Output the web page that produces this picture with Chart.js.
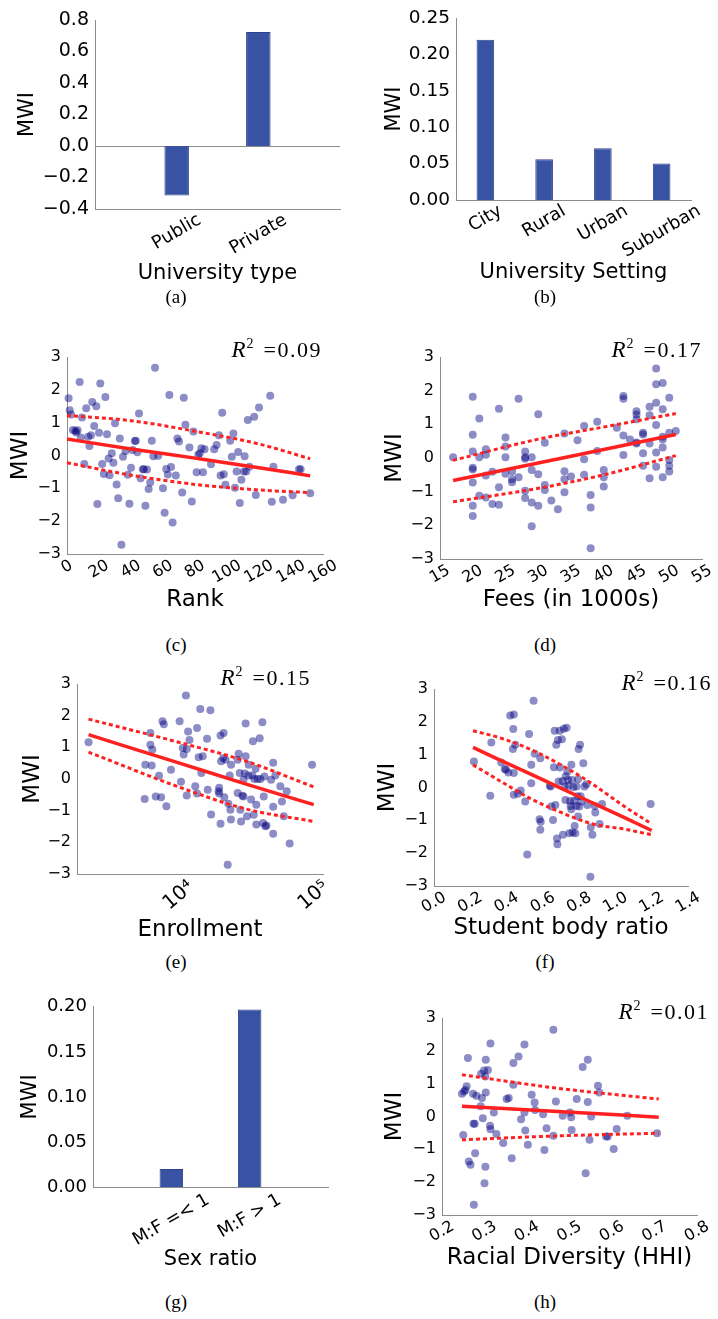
<!DOCTYPE html>
<html lang="en">
<head>
<meta charset="UTF-8">
<title>MWI by university attributes</title>
<style>
  body { margin: 0; background: #fff; }
  #page { position: relative; width: 718px; height: 1319px; overflow: hidden; }
  canvas { position: absolute; }
  .cap { position: absolute; width: 60px; text-align: center; font-family: "Liberation Serif", serif; font-size: 19px; line-height: 22px; }
  .r2 { position: absolute; font-family: "Liberation Serif", serif; font-size: 22px; line-height: 26px; white-space: nowrap; }
  .r2 i { font-size: 23px; }
  .r2 sup { font-size: 14px; vertical-align: 9px; line-height: 0; margin-left: 1px; margin-right: 10px; }
  .r2 span { letter-spacing: 1.5px; }
</style>
<script src="https://cdn.jsdelivr.net/npm/chart.js"></script>
</head>
<body>
<div id="page">
  <canvas id="ca" width="359" height="290" style="left:0;top:0"></canvas>
  <canvas id="cb" width="359" height="290" style="left:359px;top:0"></canvas>
  <canvas id="cc" width="359" height="290" style="left:0;top:330px"></canvas>
  <canvas id="cd" width="359" height="290" style="left:359px;top:330px"></canvas>
  <canvas id="ce" width="359" height="290" style="left:0;top:660px"></canvas>
  <canvas id="cf" width="359" height="290" style="left:359px;top:660px"></canvas>
  <canvas id="cg" width="359" height="290" style="left:0;top:990px"></canvas>
  <canvas id="ch" width="359" height="290" style="left:359px;top:990px"></canvas>

  <div class="cap" style="left:146px;top:286px">(a)</div>
  <div class="cap" style="left:515px;top:286px">(b)</div>
  <div class="cap" style="left:146px;top:634px">(c)</div>
  <div class="cap" style="left:515px;top:634px">(d)</div>
  <div class="cap" style="left:146px;top:951px">(e)</div>
  <div class="cap" style="left:515px;top:951px">(f)</div>
  <div class="cap" style="left:146px;top:1291px">(g)</div>
  <div class="cap" style="left:515px;top:1291px">(h)</div>

  <div class="r2" style="right:396px;top:337px"><i>R</i><sup>2</sup><span>=0.09</span></div>
  <div class="r2" style="right:16px;top:337px"><i>R</i><sup>2</sup><span>=0.17</span></div>
  <div class="r2" style="right:407px;top:665px"><i>R</i><sup>2</sup><span>=0.15</span></div>
  <div class="r2" style="right:6px;top:670px"><i>R</i><sup>2</sup><span>=0.16</span></div>
  <div class="r2" style="right:9px;top:999px"><i>R</i><sup>2</sup><span>=0.01</span></div>
</div>

<script>
// (a) university type
const typeLabels = ['', 'Public', 'Private', ''];
const typeValues = [null, -0.314, 0.724, null];

// (b) university setting
const settingLabels = ['City', 'Rural', 'Urban', 'Suburban'];
const settingValues = [0.220, 0.056, 0.071, 0.050];

// (g) sex ratio
const sexLabels = ['', 'M:F =< 1', 'M:F > 1', ''];
const sexValues = [null, 0.020, 0.197, null];

// (c) rank
const rankX = [1, 1.7, 2.5, 7.9, 20.8, 3.7, 5.2, 6.6, 5.8, 9.4,
  8.7, 12, 13.3, 14, 15, 15.8, 17, 18.3, 20, 24,
  25, 10.8, 19, 22, 23, 26.6, 26, 28, 29, 30,
  31, 32, 33, 34, 35, 36.6, 38, 39, 40, 41,
  42.4, 43, 44, 45, 46, 47.4, 48, 49, 50, 51,
  52, 53, 54, 55, 57, 60, 61, 62, 63, 64,
  65, 66, 68, 69, 70, 72, 73, 74, 76.5, 78,
  79, 81, 82, 83, 84, 85, 86, 90, 92, 93.5,
  95, 96, 97, 98, 99, 102, 103, 104, 105, 106,
  107, 108, 109, 110.5, 111, 112, 113, 114, 117, 118,
  120, 127, 128, 129, 135, 141, 145, 146, 152];
const rankY = [1.74, 1.38, 1.25, 2.24, 2.19, 0.78, 0.75, 0.77, 0.7, 1.16,
  0.55, 1.44, 0.57, 0.29, 0.62, 1.63, 0.9, 1.5, 0.69, 1.78,
  0.65, -0.26, -1.48, -0.26, -0.56, -0.6, -0.09, 0.07, -0.22, 0.98,
  -0.88, -1.3, 0.52, -2.72, -0.04, 0.14, -0.59, -1.47, -0.37, 0.17,
  0.44, 0.45, 0.1, 1.28, -0.69, -0.42, -0.42, -1.53, -0.43, -1.02,
  -0.82, 0.45, -0.02, 2.67, -0.01, -1.0, -1.74, -0.41, -0.58, 1.84,
  -0.35, -2.04, -0.61, 0.52, 0.43, -1.13, 1.76, 0.94, 0.24, -1.4,
  0.73, -0.51, 0.02, 0.07, 0.22, -0.51, 0.19, -0.27, 0.19, 0.32,
  0.62, -0.61, 1.3, -0.57, -0.89, 0.45, -0.04, 0.67, -0.98, -0.49,
  0.11, -1.45, -0.74, -0.49, -0.02, -0.49, 1.08, -0.34, 1.18, -1.2,
  1.46, 1.82, -1.41, -0.34, -1.35, -1.21, -0.42, -0.42, -1.15];
const rankFitX = [0, 40, 80, 120, 152];
const rankFit = [0.5, 0.2, -0.08, -0.37, -0.62];
const rankUpper = [1.22, 1.06, 0.74, 0.35, -0.1];
const rankLower = [-0.22, -0.6, -0.88, -1.05, -1.13];

// (d) fees
const feesX = [17, 20, 20, 20, 20, 20, 20, 20, 20, 21,
  21, 21, 22, 22, 22, 22, 23, 23, 24, 24,
  24, 25, 25, 25, 25, 26, 26, 26, 27, 27,
  28, 28, 28, 28, 28, 29, 29, 29, 29, 30,
  30, 30, 31, 31, 31, 32, 33, 34, 34, 34,
  34, 35, 36, 37, 37, 37, 38, 38, 38, 39,
  39, 40, 40, 40, 42, 43, 43, 43, 43, 44,
  45, 45, 45, 45, 45, 46, 46, 46, 46, 47,
  47, 47, 47, 48, 48, 48, 48, 48, 48, 49,
  49, 49, 49, 49, 49, 50, 50, 50, 50, 50,
  51];
const feesY = [0.02, 1.82, 0.69, 0.19, -0.29, -0.34, -0.73, -1.42, -1.72, 1.17,
  0.02, -1.12, 0.26, 0.1, -0.52, -1.17, -0.41, -1.37, 1.46, -0.87,
  -1.39, 0.61, 0.34, 0.02, -0.47, -0.4, -0.63, -0.72, 1.76, -0.57,
  0.19, 0.02, -0.02, -0.97, -1.19, 0.02, -0.36, -1.32, -2.03, 1.3,
  -0.48, -1.42, 0.45, -0.8, -0.95, -1.26, -1.52, 0.73, -0.39, -0.63,
  -1.02, -0.55, 0.53, 0.95, -0.04, -0.5, -1.1, -1.47, -2.68, 1.08,
  0.21, -0.36, -0.57, -0.85, 0.9, 1.84, 1.76, 0.67, 0.09, 0.55,
  1.39, 1.29, 1.15, 0.46, 0.43, 0.75, 0.7, 0.14, -0.23, 1.52,
  1.27, 0.43, -0.6, 2.66, 2.19, 1.64, 0.98, 0.16, -0.26, 2.23,
  1.45, 0.63, 0.55, 0.31, -0.57, 1.79, 0.75, -0.06, -0.23, -0.4,
  0.8];
const feesFitX = [17, 30, 40, 51];
const feesFit = [-0.67, -0.15, 0.25, 0.7];
const feesUpper = [-0.07, 0.56, 0.92, 1.32];
const feesLower = [-1.3, -0.9, -0.5, 0.07];

// (e) enrollment
const enrollX = [2150, 5600, 5660, 6170, 6170, 6380, 6310, 6760, 7150, 7410,
  7590, 7760, 8110, 8770, 10160, 10400, 10720, 10890, 11320, 11480,
  11750, 11480, 12020, 13270, 13680, 13680, 14060, 14450, 14720, 15070,
  16220, 16410, 17180, 17380, 19770, 19950, 19950, 20420, 20420, 20610,
  21380, 21530, 21780, 22280, 23070, 23330, 23880, 24150, 24380, 24440,
  27350, 27350, 27800, 28310, 28640, 28970, 29650, 30200, 30200, 30900,
  31330, 31330, 32060, 32810, 32960, 34360, 35160, 35480, 35970, 36310,
  37150, 37580, 37580, 38460, 39810, 40270, 41690, 42170, 42660, 43150,
  43850, 44670, 48310, 50120, 50120, 50120, 52000, 56620, 58210, 59980,
  63100, 66370, 97270];
const enrollY = [1.16, -0.63, 0.45, 1.45, 1.08, 0.93, 0.43, -0.55, 0.1, -0.58,
  1.82, 1.73, -0.86, 0.29, 1.82, -0.09, 0.98, 0.77, 2.64, 0.95,
  1.5, -0.52, 1.23, -0.23, 1.61, -0.46, 0.69, 2.21, 0.19, 0.72,
  1.27, -0.34, 2.17, -1.12, -0.39, -0.28, -0.46, 1.37, -1.41, 0.56,
  0.66, 1.45, -0.58, 0.61, -2.71, -0.78, 0.11, -0.97, -1.28, 0.45,
  0.61, -0.44, 0.8, 0.19, -0.97, -1.34, -0.53, -0.55, -0.02, 0.17,
  1.75, 0.72, -1.18, 0.11, 0.45, -0.65, 0.11, 1.19, -1.13, 0.0,
  0.32, -0.81, -1.44, 0.0, 1.29, 0.0, 1.79, -1.39, -0.55, 0.08,
  -1.49, -1.47, -0.02, 0.51, -1.73, -0.88, 0.11, -0.23, -0.71, -1.18,
  -0.39, -2.04, 0.45];
const enrollFitX = [2150, 10000, 31620, 100000];
const enrollFit = [1.4, 0.51, -0.16, -0.81];
const enrollUpper = [1.89, 1.16, 0.56, -0.25];
const enrollLower = [0.85, -0.25, -0.95, -1.34];

// (f) student body ratio
const ratioX = [0.22, 0.31, 0.316, 0.371, 0.39, 0.397, 0.41, 0.42, 0.44, 0.437,
  0.435, 0.44, 0.44, 0.448, 0.463, 0.478, 0.503, 0.524, 0.536, 0.536,
  0.549, 0.555, 0.582, 0.586, 0.588, 0.586, 0.514, 0.643, 0.647, 0.656,
  0.661, 0.665, 0.669, 0.674, 0.678, 0.68, 0.683, 0.687, 0.693, 0.694,
  0.705, 0.709, 0.711, 0.716, 0.72, 0.724, 0.726, 0.731, 0.735, 0.739,
  0.742, 0.746, 0.75, 0.753, 0.757, 0.757, 0.761, 0.764, 0.768, 0.772,
  0.775, 0.779, 0.785, 0.786, 0.79, 0.794, 0.794, 0.797, 0.801, 0.805,
  0.808, 0.812, 0.823, 0.83, 0.84, 0.845, 0.862, 0.864, 0.873, 0.886,
  0.889, 0.913, 0.926, 1.194, 0.638];
const ratioY = [0.79, -0.25, 1.37, 0.76, 0.56, 0.54, 0.46, 2.19, 2.22, 1.78,
  1.17, -0.22, 0.44, 1.3, -0.19, -0.09, -0.43, 1.63, 0.69, 0.13,
  2.64, 1.03, -0.97, 0.89, -1.04, -1.29, -2.04, 0.03, -0.58, -0.99,
  0.62, 1.73, -0.53, 1.3, -1.55, -1.73, 1.45, 0.18, 1.73, 0.61,
  1.47, 0.2, -1.44, 1.79, 0.03, -0.38, 0.34, 1.82, 0.49, 0.23,
  0.05, -1.39, -0.41, -0.56, 0.69, -0.66, 0.23, -1.37, 0.01, -0.41,
  -1.17, -1.39, -0.56, 0.03, -0.27, 0.25, -0.88, 1.17, -0.58, 1.3,
  -0.27, -0.43, 0.74, 0.03, 0.1, -0.53, -2.72, -1.21, -1.44, -0.56,
  -0.76, -1.11, -0.5, -0.5, 0.05];
const ratioFitX = [0.215, 0.37, 0.536, 0.683, 0.867, 1.05, 1.2];
const ratioFit = [1.22, 0.82, 0.4, 0.02, -0.45, -0.92, -1.31];
const ratioUpper = [1.73, 1.5, 1.15, 0.74, 0.13, -0.58, -1.11];
const ratioLower = [0.69, 0.18, -0.35, -0.72, -1.1, -1.27, -1.44];

// (h) racial diversity
const hhiX = [0.247, 0.252, 0.255, 0.25, 0.261, 0.258, 0.263, 0.267, 0.273, 0.274,
  0.277, 0.275, 0.281, 0.278, 0.291, 0.292, 0.294, 0.296, 0.299, 0.302,
  0.303, 0.303, 0.302, 0.3, 0.308, 0.313, 0.314, 0.314, 0.322, 0.328,
  0.344, 0.352, 0.357, 0.364, 0.368, 0.368, 0.38, 0.386, 0.394, 0.394,
  0.396, 0.402, 0.411, 0.418, 0.419, 0.438, 0.441, 0.446, 0.462, 0.462,
  0.468, 0.484, 0.501, 0.504, 0.505, 0.517, 0.531, 0.538, 0.543, 0.543,
  0.547, 0.551, 0.567, 0.57, 0.586, 0.59, 0.604, 0.611, 0.636, 0.706];
const hhiY = [0.69, 0.76, 0.81, -0.56, 1.78, 0.92, -1.37, -1.47, 0.69, -0.22,
  -0.22, -2.69, 0.63, -1.12, 0.31, 1.3, 0.56, -0.05, 1.4, 1.22,
  1.73, 0.73, -1.53, -2.03, 1.42, -0.28, 2.22, -0.39, 0.12, -0.53,
  -0.81, 0.53, 0.56, -1.27, 1.63, 0.97, 1.83, -0.08, 2.19, 0.12,
  -0.43, -0.86, 0.66, 0.43, 0.2, 0.07, -1.02, -0.36, 2.64, -0.59,
  0.46, 0.02, 0.12, -0.02, -0.41, 0.53, 1.51, -1.73, 1.73, 0.44,
  -0.71, 0.0, 0.94, 0.73, -0.61, -0.61, -0.99, -0.38, 0.02, -0.51];
const hhiFitX = [0.247, 0.472, 0.71];
const hhiFit = [0.31, 0.15, -0.02];
const hhiUpper = [1.27, 0.86, 0.53];
const hhiLower = [-0.71, -0.59, -0.51];

Chart.defaults.font.family = '"DejaVu Sans", sans-serif';
Chart.defaults.color = '#000';
Chart.defaults.animation = false;

const AXIS = '#8c8c8c';
const BAR = '#3953a4';
const DOT = 'rgba(0, 0, 128, 0.45)';
const RED = '#ff2020';

const minus = s => String(s).replace('-', '\u2212');
const zip = (xs, ys) => xs.map((x, i) => ({ x: x, y: ys[i] }));

// matplotlib style x labels: rotated, centred under the tick
const rotTicks = {
  id: 'rotTicks',
  afterDraw(chart, args, o) {
    const sc = chart.scales.x;
    const ctx = chart.ctx;
    const a = o.angle * Math.PI / 180;
    const h = o.size * 0.75;
    ctx.save();
    ctx.font = o.size + 'px "DejaVu Sans"';
    ctx.fillStyle = '#000';
    ctx.textAlign = 'center';
    ctx.textBaseline = 'middle';
    sc.ticks.forEach((t, i) => {
      if (!t.label) return;
      const w = ctx.measureText(t.label).width;
      const bh = w * Math.sin(a) + h * Math.cos(a);
      ctx.save();
      ctx.translate(sc.getPixelForTick(i), sc.top + o.pad + bh / 2);
      ctx.rotate(-a);
      ctx.fillText(t.label, 0, 0);
      ctx.restore();
    });
    ctx.restore();
  }
};

function yAxis(p) {
  return {
    min: p.ymin, max: p.ymax,
    ticks: { stepSize: p.ystep, padding: 6, font: { size: p.tick }, callback: v => minus(p.yfmt(v)) },
    grid: {
      display: !!p.zero, drawTicks: false,
      color: c => (p.zero && c.tick && Math.abs(c.tick.value) < 1e-9) ? AXIS : 'rgba(0,0,0,0)'
    },
    border: { display: true, color: AXIS, width: 1 },
    title: { display: true, text: 'MWI', font: { size: p.title }, padding: { top: p.yTitlePad, bottom: 0 } },
    afterFit: s => { s.width = p.yW; }
  };
}

function xTitle(p) {
  return { display: true, text: p.xlabel, font: { size: p.title }, padding: { top: 0, bottom: p.xTitlePad } };
}

function barChart(id, labels, values, p) {
  new Chart(document.getElementById(id), {
    type: 'bar',
    data: {
      labels: labels,
      datasets: [{
        data: values, backgroundColor: BAR, borderColor: '#2d4288', borderWidth: 1,
        barPercentage: 0.3, categoryPercentage: 1
      }]
    },
    options: {
      responsive: false, events: [],
      layout: { autoPadding: false, padding: { top: p.top, right: p.right, left: 0, bottom: 0 } },
      plugins: { legend: { display: false }, tooltip: { enabled: false },
                 rotTicks: { angle: 30, size: p.xtick, pad: p.labelPad } },
      scales: {
        x: {
          type: 'category', offset: p.offset,
          ticks: { display: false },
          grid: { display: false },
          border: { display: true, color: AXIS, width: 1 },
          title: xTitle(p),
          afterFit: s => { s.height = p.xH; }
        },
        y: yAxis(p)
      }
    },
    plugins: [rotTicks]
  });
}

function scatterChart(id, xs, ys, fx, fit, up, lo, p) {
  const line = (ys2, w, dash) => ({
    data: zip(fx, ys2), showLine: true, borderColor: RED, borderWidth: w, borderDash: dash,
    pointRadius: 0, tension: 0.35, cubicInterpolationMode: 'monotone', fill: false
  });
  new Chart(document.getElementById(id), {
    type: 'scatter',
    data: {
      datasets: [
        line(fit, 3.5, []),
        line(up, 3, [4, 3]),
        line(lo, 3, [4, 3]),
        { data: zip(xs, ys), pointRadius: 4, pointBackgroundColor: DOT, pointBorderWidth: 0, showLine: false }
      ]
    },
    options: {
      responsive: false, events: [], clip: false,
      layout: { autoPadding: false, padding: { top: p.top, right: p.right, left: 0, bottom: 0 } },
      plugins: { legend: { display: false }, tooltip: { enabled: false },
                 rotTicks: { angle: p.angle || 30, size: p.xtick, pad: p.labelPad } },
      scales: {
        x: {
          type: p.xtype || 'linear', min: p.xmin, max: p.xmax,
          ticks: { display: false, stepSize: p.xstep, callback: p.xfmt },
          grid: { display: false },
          border: { display: true, color: AXIS, width: 1 },
          title: xTitle(p),
          afterFit: s => { s.height = p.xH; }
        },
        y: yAxis(p)
      }
    },
    plugins: [rotTicks]
  });
}

const sc = { ymin: -3, ymax: 3, ystep: 1, yfmt: v => v, tick: 16, xtick: 16, title: 23, labelPad: 5 };

barChart('ca', typeLabels, typeValues, {
  top: 20, right: 19, yW: 95, xH: 81, offset: false,
  ymin: -0.4, ymax: 0.8, ystep: 0.2, yfmt: v => v.toFixed(1), zero: true,
  tick: 19, xtick: 18, title: 21, yTitlePad: 15, xTitlePad: 4, labelPad: 4, xlabel: 'University type'
});
barChart('cb', settingLabels, settingValues, {
  top: 18, right: 27, yW: 97, xH: 90, offset: true,
  ymin: 0, ymax: 0.25, ystep: 0.05, yfmt: v => v.toFixed(2),
  tick: 18.5, xtick: 18, title: 21, yTitlePad: 23, xTitlePad: 5, labelPad: 4, xlabel: 'University Setting'
});
scatterChart('cc', rankX, rankY, rankFitX, rankFit, rankUpper, rankLower, Object.assign({}, sc, {
  top: 27, right: 36, yW: 67, xH: 66, yTitlePad: 7, xTitlePad: 6,
  xmin: 0, xmax: 160, xstep: 20, xfmt: v => String(v), xlabel: 'Rank'
}));
scatterChart('cd', feesX, feesY, feesFitX, feesFit, feesUpper, feesLower, Object.assign({}, sc, {
  top: 27, right: 16, yW: 81, xH: 61, yTitlePad: 22, xTitlePad: 6,
  xmin: 15, xmax: 55, xstep: 5, xfmt: v => String(v), xlabel: 'Fees (in 1000s)'
}));
scatterChart('ce', enrollX, enrollY, enrollFitX, enrollFit, enrollUpper, enrollLower, Object.assign({}, sc, {
  top: 24, right: 36, yW: 77, xH: 76, yTitlePad: 19, xTitlePad: 6, xtype: 'logarithmic', angle: 40, xtick: 20,
  xmin: 1766, xmax: 117200, xfmt: v => v === 10000 ? '10\u2074' : (v === 100000 ? '10\u2075' : ''), xlabel: 'Enrollment'
}));
scatterChart('cf', ratioX, ratioY, ratioFitX, ratioFit, ratioUpper, ratioLower, Object.assign({}, sc, {
  top: 29, right: 30, yW: 75, xH: 64, yTitlePad: 15, xTitlePad: 8,
  xmin: 0, xmax: 1.4, xstep: 0.2, xfmt: v => v.toFixed(1), xlabel: 'Student body ratio'
}));
barChart('cg', sexLabels, sexValues, {
  top: 15, right: 31, yW: 93, xH: 93, offset: false,
  ymin: 0, ymax: 0.2, ystep: 0.05, yfmt: v => v.toFixed(2),
  tick: 18, xtick: 18, title: 21, yTitlePad: 18, xTitlePad: 8, labelPad: 6, xlabel: 'Sex ratio'
});
scatterChart('ch', hhiX, hhiY, hhiFitX, hhiFit, hhiUpper, hhiLower, Object.assign({}, sc, {
  top: 28, right: 21, yW: 83, xH: 65, yTitlePad: 22, xTitlePad: 8,
  xmin: 0.2, xmax: 0.8, xstep: 0.1, xfmt: v => v.toFixed(1), xlabel: 'Racial Diversity (HHI)'
}));
</script>
</body>
</html>
